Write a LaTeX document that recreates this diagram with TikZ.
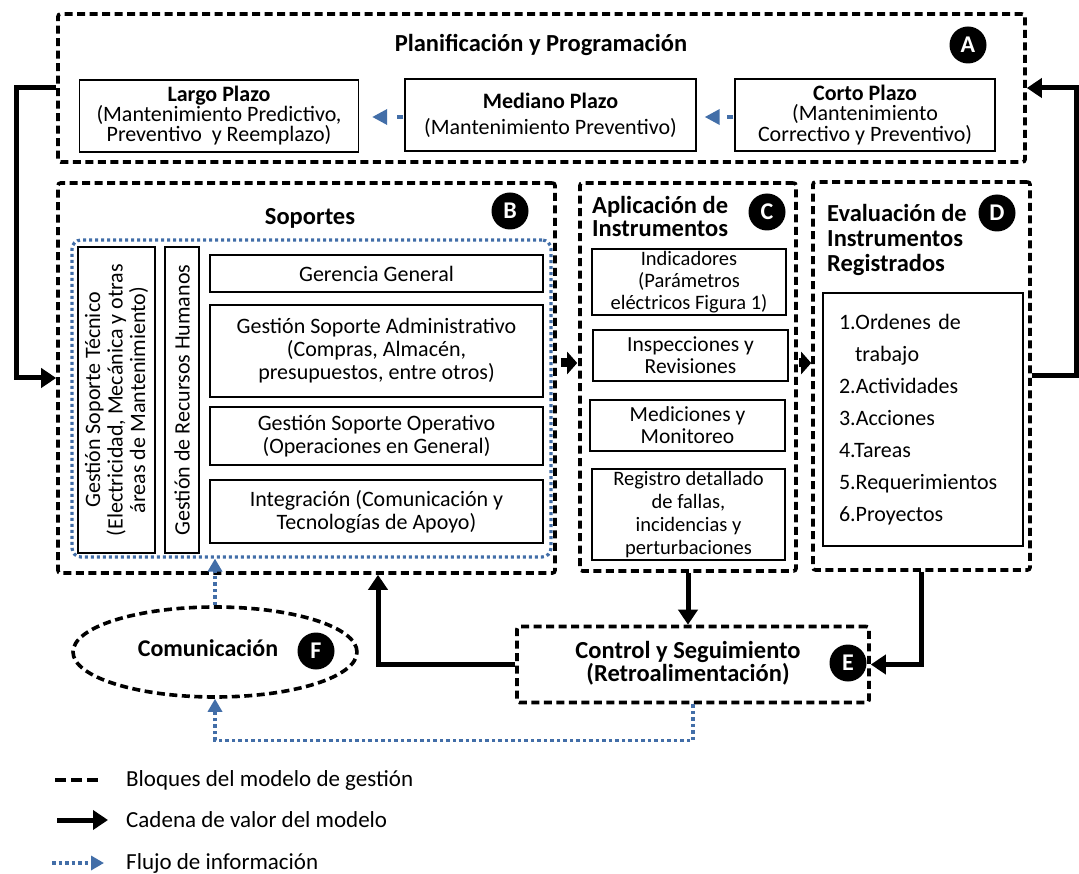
\documentclass[tikz,border=0pt]{standalone}
\usepackage{fontspec}
\setmainfont{Carlito}
\usetikzlibrary{arrows.meta,calc,shapes.geometric}
\definecolor{infoblue}{RGB}{66,110,168}
\newcommand\txtbody{\fontsize{22}{21.5}\selectfont}
\newcommand\txtsmall{\fontsize{20.5}{22}\selectfont}
\newcommand\txttitle{\fontsize{24.5}{23}\selectfont\bfseries}
\tikzset{
  block/.style={draw, line width=3.6pt, dash pattern=on 8pt off 4.5pt, rounded corners=2.5pt, inner sep=0pt},
  blockline/.style={line width=4pt, dash pattern=on 11pt off 5pt},
  inbox/.style={draw, line width=1.4pt, align=center, inner sep=0pt, font=\txtbody},
  cbox/.style={inbox, font=\txtsmall},
  badge/.style={circle, fill=black, text=white, font=\bfseries\fontsize{24}{24}\selectfont, minimum size=37pt, inner sep=0pt},
  chain/.style={line width=5pt, -{Triangle[length=15pt,width=19pt]}},
  stub/.style={line width=9pt, -{Triangle[length=10pt,width=22pt]}},
  info/.style={draw=infoblue, line width=3.5pt, dash pattern=on 3.5pt off 3pt, -{Triangle[length=13pt,width=14pt,fill=infoblue]}, color=infoblue},
  infoshort/.style={info, dash pattern=on 6pt off 30pt, -{Triangle[length=15pt,width=15pt,fill=infoblue]}},
  supframe/.style={draw=infoblue, line width=3.2pt, dash pattern=on 3pt off 3pt, rounded corners=9pt, inner sep=0pt},
  title/.style={font=\txttitle, inner sep=0pt},
}
\begin{document}
\begin{tikzpicture}[x=1pt, y=-1pt]
\useasboundingbox[fill=white] (0,0) rectangle (1079,874);

% ---- A: planificacion y programacion
\node[block, minimum width=967pt, minimum height=148pt] (A) at (541.5,88) {};
\node[title] (Atitle) at (541,45) {Planificación y Programación};
\node[badge] (Abadge) at (968,45) {A};
\node[inbox, minimum width=279pt, minimum height=72pt, font=\fontsize{22}{20}\selectfont] (largo) at (219,116) {\textbf{Largo Plazo}\\(Mantenimiento Predictivo,\\Preventivo\ \ y Reemplazo)};
\node[inbox, minimum width=291pt, minimum height=72pt, font=\fontsize{22}{26}\selectfont] (mediano) at (550.5,115) {\textbf{Mediano Plazo}\\(Mantenimiento Preventivo)};
\node[inbox, minimum width=260pt, minimum height=72pt, font=\fontsize{22}{20.5}\selectfont] (corto) at (865,115) {\textbf{Corto Plazo}\\(Mantenimiento\\Correctivo y Preventivo)};
\draw[infoshort, shorten <=1pt, shorten >=13pt] ([yshift=-2pt]mediano.west) -- ([yshift=-2pt]mediano.west -| largo.east);
\draw[infoshort, shorten <=1pt, shorten >=8pt] ([yshift=-2pt]corto.west) -- ([yshift=-2pt]corto.west -| mediano.east);

% ---- B: soportes
\node[block, minimum width=497pt, minimum height=390pt] (B) at (306.5,378) {};
\node[title] (Btitle) at (310,218) {Soportes};
\node[badge] (Bbadge) at (510,211) {B};
\node[supframe, minimum width=479pt, minimum height=317pt] (bsup) at (311.5,398.5) {};
\node[inbox, rotate=90, minimum width=306pt, minimum height=77pt, font=\fontsize{22}{22.5}\selectfont] (tecnico) at (116.5,400) {Gestión Soporte Técnico\\(Electricidad, Mecánica y otras\\áreas de Mantenimiento)};
\node[inbox, rotate=90, minimum width=306pt, minimum height=34pt] (rrhh) at (182,400) {Gestión de Recursos Humanos};
\node[inbox, minimum width=333pt, minimum height=37pt] (gerencia) at (376.5,273.5) {Gerencia General};
\node[inbox, minimum width=333pt, minimum height=92pt, font=\fontsize{22}{23}\selectfont] (admin) at (376.5,351) {Gestión Soporte Administrativo\\(Compras, Almacén,\\presupuestos, entre otros)};
\node[inbox, minimum width=333pt, minimum height=58pt, font=\fontsize{22}{23}\selectfont] (oper) at (376.5,436) {Gestión Soporte Operativo\\(Operaciones en General)};
\node[inbox, minimum width=333pt, minimum height=63pt, font=\fontsize{22}{23}\selectfont] (integ) at (376.5,511.5) {Integración (Comunicación y\\Tecnologías de Apoyo)};

% ---- C: aplicacion de instrumentos
\node[block, minimum width=216pt, minimum height=388pt] (C) at (688,377) {};
\node[title, anchor=west, align=left] (Ctitle) at (592,216) {Aplicación de\\Instrumentos};
\node[badge] (Cbadge) at (767,212) {C};
\node[cbox, minimum width=194pt, minimum height=66pt] (indic) at (689,282) {Indicadores\\(Parámetros\\eléctricos Figura 1)};
\node[cbox, minimum width=195pt, minimum height=51pt, font=\fontsize{21.5}{22}\selectfont] (insp) at (690.5,355.5) {Inspecciones y\\Revisiones};
\node[cbox, minimum width=195pt, minimum height=51pt, font=\fontsize{21.5}{22}\selectfont] (medic) at (687.5,425.5) {Mediciones y\\Monitoreo};
\node[cbox, minimum width=193pt, minimum height=91pt, font=\fontsize{20.5}{22.7}\selectfont] (regis) at (688.5,514.5) {Registro detallado\\de fallas,\\incidencias y\\perturbaciones};

% ---- D: evaluacion de instrumentos registrados
\node[block, minimum width=217pt, minimum height=388pt] (D) at (921.5,376) {};
\node[title, anchor=west, align=left, font=\fontsize{24.5}{25}\selectfont\bfseries] (Dtitle) at (827,240) {Evaluación de\\Instrumentos\\Registrados};
\node[badge] (Dbadge) at (997,213) {D};
\node[inbox, minimum width=200pt, minimum height=253pt, align=left, text width=168pt, font=\fontsize{22}{32}\selectfont] (dlist) at (923,419.5) {1.Ordenes de\\\hspace*{16pt}trabajo\\2.Actividades\\3.Acciones\\4.Tareas\\5.Requerimientos\\6.Proyectos};

% ---- E: control y seguimiento
\node[block, minimum width=352pt, minimum height=76pt] (E) at (693,664.5) {};
\node[title, align=center] (Etext) at (688,663) {Control y Seguimiento\\(Retroalimentación)};
\node[badge] (Ebadge) at (848,663) {E};

% ---- F: comunicacion
\node[block, ellipse, minimum width=284pt, minimum height=90pt] (F) at (215,652) {};
\node[title, font=\fontsize{24}{24}\selectfont\bfseries] (Ftext) at (208,648) {Comunicación};
\node[badge] (Fbadge) at (316,651) {F};

% ---- value chain
\draw[chain] (A.west) -- ++(-40,0) |- (B.west);
\draw[chain] (D.east) -- ++(45,0) |- (A.east);
\draw[stub, shorten <=4pt, shorten >=1pt] ([yshift=15pt]B.east) -- ([yshift=15pt]B.east -| C.west);
\draw[stub, shorten <=1pt, shorten >=0pt] ([yshift=14pt]C.east) -- ([yshift=14pt]C.east -| D.west);
\draw[chain] (C.south) -- (C.south |- E.north);
\draw[chain] (D.south) |- (E.east);
\draw[chain] (E.west) -| ([xshift=71.5pt]B.south);

% ---- information flow
\draw[info] (F.north) -- (F.north |- bsup.south);
\draw[info] (E.south) -- ++(0,36) -| (F.south);

% ---- legend
\node[anchor=west, font=\fontsize{23}{23}\selectfont, inner sep=0pt] (lg1) at (126,780) {Bloques del modelo de gestión};
\node[anchor=west, font=\fontsize{23}{23}\selectfont, inner sep=0pt] (lg2) at (126,820) {Cadena de valor del modelo};
\node[anchor=west, font=\fontsize{23}{23}\selectfont, inner sep=0pt] (lg3) at (126,863) {Flujo de información};
\draw[blockline] ([xshift=-71pt]lg1.west) -- ([xshift=-24pt]lg1.west);
\draw[chain] ([xshift=-69pt]lg2.west) -- ([xshift=-18pt]lg2.west);
\draw[info] ([xshift=-74pt]lg3.west) -- ([xshift=-22pt]lg3.west);
\end{tikzpicture}
\end{document}
